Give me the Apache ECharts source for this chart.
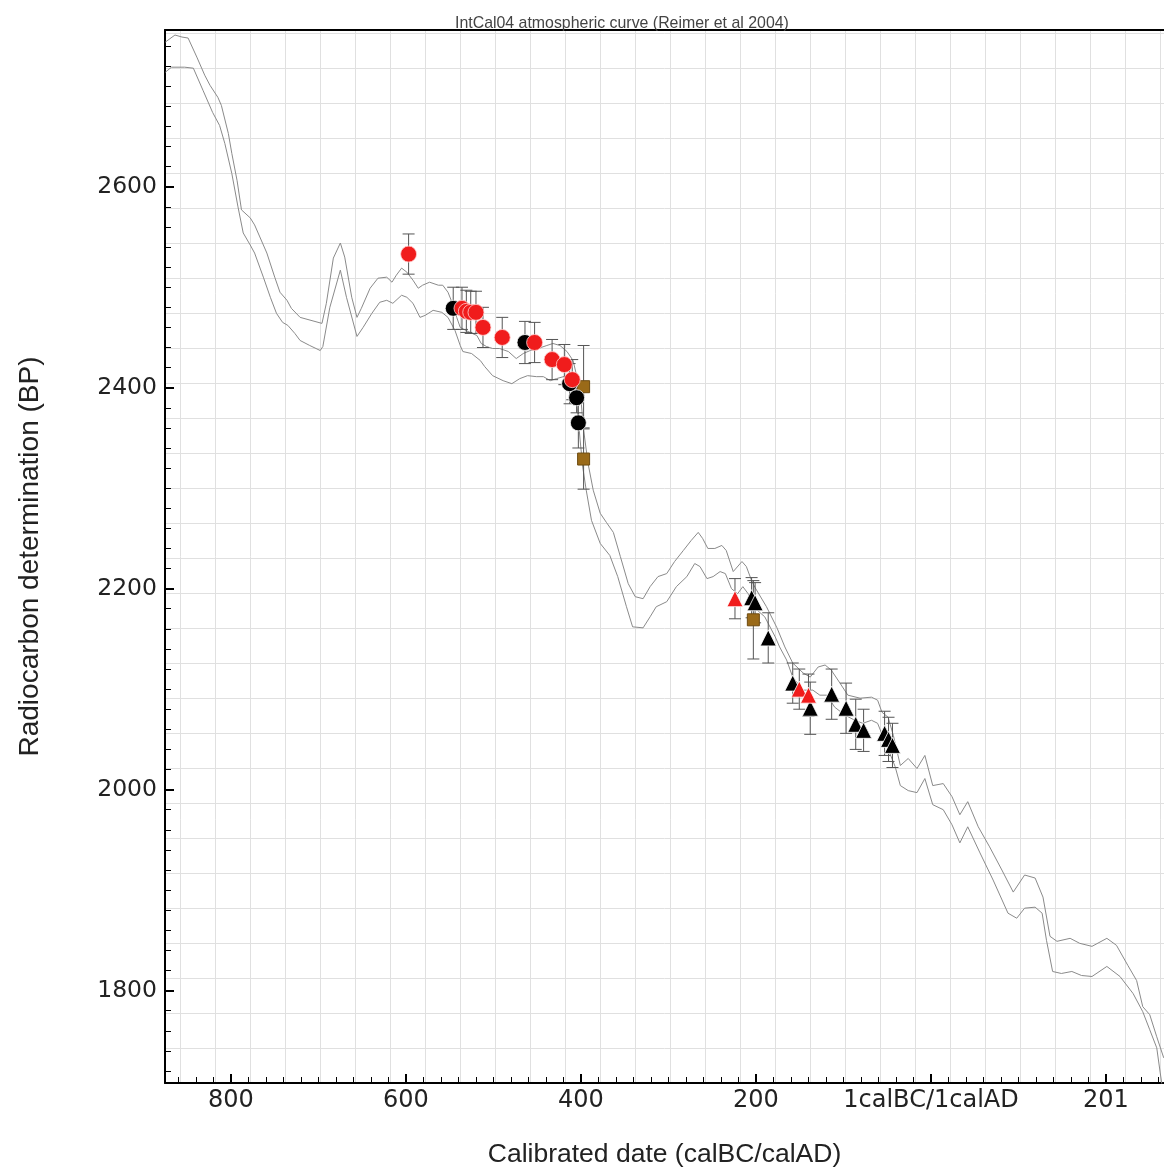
<!DOCTYPE html>
<html>
<head>
<meta charset="utf-8">
<script src="https://cdn.jsdelivr.net/npm/echarts@6/dist/echarts.min.js"></script>
<style>
html,body{margin:0;padding:0;background:#fff;}
#chart{width:1164px;height:1169px;}
</style>
</head>
<body>
<div id="chart"></div>
<script>
// Calendar years: BC negative, AD positive (0 = boundary 1calBC/1calAD)
const upperYears = [-875,-864,-856,-849,-839,-830,-824,-815,-811,-803,-799,-793,-788,-778,-773,-767,-759,-750,-744,-736,-731,-721,-696,-691,-683,-675,-670,-662,-656,-651,-641,-632,-622,-616,-611,-605,-599,-592,-586,-581,-573,-563,-558,-552,-546,-542,-538,-527,-519,-514,-508,-501,-493,-483,-474,-466,-458,-449,-439,-432,-424,-416,-409,-405,-400,-397,-392,-386,-378,-371,-363,-355,-346,-338,-329,-321,-312,-302,-293,-283,-274,-266,-261,-255,-247,-239,-234,-226,-216,-211,-205,-201,-188,-176,-167,-158,-146,-138,-129,-121,-114,-104,-95,-81,-68,-61,-56,-49,-43,-35,-26,-16,-7,2,14,24,33,42,54,67,81,94,107,119,128,136,144,159,170,184,201,212,225,235,242,250,258,266];
const upperBP = [2744,2751,2749,2748,2729,2711,2701,2689,2681,2653,2633,2606,2577,2569,2562,2550,2534,2510,2495,2487,2479,2470,2464,2484,2529,2544,2530,2490,2470,2479,2499,2509,2510,2505,2512,2519,2515,2507,2499,2502,2505,2502,2502,2495,2482,2470,2460,2455,2452,2444,2441,2439,2439,2436,2429,2434,2437,2439,2442,2444,2442,2436,2427,2412,2388,2358,2325,2298,2275,2266,2256,2232,2205,2192,2190,2202,2212,2215,2227,2238,2248,2256,2250,2240,2240,2243,2238,2217,2227,2222,2208,2201,2182,2161,2142,2126,2116,2112,2122,2124,2119,2106,2094,2091,2092,2089,2077,2072,2054,2024,2031,2021,2034,2004,2006,1993,1975,1988,1963,1943,1920,1898,1915,1912,1893,1854,1849,1852,1847,1844,1852,1845,1825,1810,1784,1776,1754,1733];
const lowerYears = [-875,-868,-853,-843,-832,-821,-813,-807,-799,-792,-786,-778,-773,-763,-755,-748,-741,-735,-727,-721,-710,-698,-695,-687,-675,-668,-656,-649,-639,-630,-622,-615,-605,-599,-592,-584,-578,-569,-559,-552,-544,-538,-535,-525,-515,-510,-501,-489,-479,-470,-461,-451,-443,-435,-428,-416,-409,-405,-401,-398,-394,-388,-378,-367,-358,-348,-341,-329,-321,-314,-302,-291,-279,-270,-264,-256,-249,-241,-235,-228,-221,-215,-209,-203,-190,-178,-173,-165,-158,-146,-135,-127,-119,-110,-98,-87,-78,-68,-61,-55,-47,-41,-35,-26,-16,-7,2,14,24,33,42,56,71,88,98,107,119,127,132,139,149,161,172,184,201,216,231,242,250,258,262,264];
const lowerBP = [2714,2719,2719,2718,2696,2674,2661,2643,2613,2580,2554,2542,2534,2510,2490,2474,2465,2462,2454,2447,2442,2437,2441,2480,2517,2490,2451,2460,2474,2485,2487,2484,2492,2490,2484,2470,2472,2477,2475,2470,2457,2442,2436,2434,2427,2421,2412,2407,2404,2409,2412,2411,2411,2407,2409,2412,2411,2388,2348,2321,2298,2268,2245,2233,2212,2182,2162,2161,2172,2182,2187,2202,2212,2225,2222,2210,2212,2217,2215,2200,2195,2202,2195,2182,2172,2152,2142,2129,2112,2099,2099,2094,2094,2082,2074,2069,2066,2069,2066,2053,2036,2023,2004,1999,1997,2011,1985,1980,1965,1947,1963,1937,1910,1877,1872,1882,1883,1877,1850,1819,1817,1819,1815,1814,1824,1814,1797,1779,1761,1743,1718,1706];

// Samples: calendar position, radiocarbon age, 1-sigma error
const redCircleYears = [-597,-536,-531,-526,-520,-512,-490,-453,-433,-419,-410];
const redCircleBP    = [2533,2479,2476,2475,2475,2460,2450,2445,2428,2423,2408];
const redCircleErr   = [20,21,21,21,21,20,20,20,20,20,20];

const blackCircleYears = [-546,-464,-413,-405,-403];
const blackCircleBP    = [2479,2445,2404,2390,2365];
const blackCircleErr   = [21,21,20,15,25];

const squareYears = [-397,-397,-203];
const squareBP    = [2401,2329,2169];
const squareErr   = [41,30,39];

const blackTriYears = [-205,-201,-186,-158,-138,-113.5,-97,-86,-77,-53,-48.5,-44];
const blackTriBP    = [2191,2186,2151,2106,2081,2095,2081,2065,2059,2056,2050,2044];
const blackTriErr   = [20,20,25,20,26,25,25,25,21,22,22,22];

const redTriYears = [-224,-150.5,-140];
const redTriBP    = [2190,2100,2094];
const redTriErr   = [20,20,21];

const xTickValues = [-800,-600,-400,-200,0,200];
const xTickLabels = ['800','600','400','200','1calBC/1calAD','201'];
const yTickValues = [1800,2000,2200,2400,2600];

const xMin = -875.4, xMax = 266.3, yMin = 1708, yMax = 2756;
const xMinor = []; for (let v = -860; v <= 260; v += 20) xMinor.push(v);
const yMinor = []; for (let v = 1720; v <= 2740; v += 20) yMinor.push(v);

function pairs(xs, ys) { return xs.map((x, i) => [x, ys[i]]); }
function triples(xs, ys, es) { return xs.map((x, i) => [x, ys[i], es[i]]); }

const errData = [].concat(
  triples(redCircleYears, redCircleBP, redCircleErr),
  triples(blackCircleYears, blackCircleBP, blackCircleErr),
  triples(squareYears, squareBP, squareErr),
  triples(blackTriYears, blackTriBP, blackTriErr),
  triples(redTriYears, redTriBP, redTriErr)
);

const FONT = 'DejaVu Sans';
const RED = '#f01c1c';

const chart = echarts.init(document.getElementById('chart'), null, {renderer: 'canvas'});
const option = {
  animation: false,
  backgroundColor: '#ffffff',
  title: {
    text: 'IntCal04 atmospheric curve (Reimer et al 2004)',
    left: 450, top: 11,
    textStyle: {fontFamily: 'Liberation Sans', fontSize: 15.9, fontWeight: 'normal', color: '#444'}
  },
  grid: [
    {left: 165, right: 0, top: 30, height: 1053, outerBoundsMode: 'none', containLabel: false},
    {left: 180, width: 980, top: 30, height: 1053, outerBoundsMode: 'none', containLabel: false},
    {left: 165, right: 0, top: 33, height: 1015, outerBoundsMode: 'none', containLabel: false}
  ],
  xAxis: [
    {
      type: 'value', gridIndex: 0, position: 'bottom', min: xMin, max: xMax,
      axisLine: {show: true, onZero: false, lineStyle: {color: '#000', width: 2}},
      axisTick: {show: true, inside: true, length: 9, customValues: xTickValues, lineStyle: {color: '#000', width: 2}},
      axisLabel: {show: true, customValues: xTickValues, margin: 6,
        formatter: v => { const i = xTickValues.indexOf(v); return i >= 0 ? xTickLabels[i] : ''; },
        fontFamily: FONT, fontSize: 24, color: '#222'},
      splitLine: {show: false},
      name: 'Calibrated date (calBC/calAD)', nameLocation: 'middle', nameGap: 58,
      nameTextStyle: {fontFamily: 'Liberation Sans', fontSize: 26.5, color: '#222'}
    },
    {
      type: 'value', gridIndex: 0, position: 'bottom', min: xMin, max: xMax,
      axisLine: {show: false, onZero: false},
      axisTick: {show: true, inside: true, length: 6, customValues: xMinor, lineStyle: {color: '#000', width: 1}},
      axisLabel: {show: false}, splitLine: {show: false}
    },
    {
      type: 'value', gridIndex: 0, position: 'top', min: xMin, max: xMax,
      axisLine: {show: true, onZero: false, lineStyle: {color: '#000', width: 2}},
      axisTick: {show: false}, axisLabel: {show: false}, splitLine: {show: false}
    },
    {
      type: 'value', gridIndex: 1, min: 0, max: 28, interval: 1,
      axisLine: {show: false, onZero: false}, axisTick: {show: false}, axisLabel: {show: false},
      splitLine: {show: true, lineStyle: {color: '#e0e0e0', width: 1}}
    },
    {
      type: 'value', gridIndex: 2, min: 0, max: 1,
      axisLine: {show: false, onZero: false}, axisTick: {show: false}, axisLabel: {show: false}, splitLine: {show: false}
    }
  ],
  yAxis: [
    {
      type: 'value', gridIndex: 0, position: 'left', min: yMin, max: yMax,
      axisLine: {show: true, onZero: false, lineStyle: {color: '#000', width: 2}},
      axisTick: {show: true, inside: true, length: 9, customValues: yTickValues, lineStyle: {color: '#000', width: 2}},
      axisLabel: {show: true, customValues: yTickValues, margin: 8, formatter: v => String(v),
        fontFamily: FONT, fontSize: 23.5, color: '#222'},
      splitLine: {show: false},
      name: 'Radiocarbon determination (BP)', nameLocation: 'middle', nameRotate: 90, nameGap: 121,
      nameTextStyle: {fontFamily: 'Liberation Sans', fontSize: 28, color: '#222'}
    },
    {
      type: 'value', gridIndex: 0, position: 'left', min: yMin, max: yMax,
      axisLine: {show: false, onZero: false},
      axisTick: {show: true, inside: true, length: 6, customValues: yMinor, lineStyle: {color: '#000', width: 1}},
      axisLabel: {show: false}, splitLine: {show: false}
    },
    {
      type: 'value', gridIndex: 1, min: 0, max: 1,
      axisLine: {show: false, onZero: false}, axisTick: {show: false}, axisLabel: {show: false}, splitLine: {show: false}
    },
    {
      type: 'value', gridIndex: 2, min: 0, max: 29, interval: 1,
      axisLine: {show: false, onZero: false}, axisTick: {show: false}, axisLabel: {show: false},
      splitLine: {show: true, lineStyle: {color: '#e0e0e0', width: 1}}
    }
  ],
  series: [
    {
      type: 'line', xAxisIndex: 0, yAxisIndex: 0, data: pairs(upperYears, upperBP),
      showSymbol: false, symbol: 'none', lineStyle: {color: '#8a8a8a', width: 1}, z: 2, silent: true
    },
    {
      type: 'line', xAxisIndex: 0, yAxisIndex: 0, data: pairs(lowerYears, lowerBP),
      showSymbol: false, symbol: 'none', lineStyle: {color: '#8a8a8a', width: 1}, z: 2, silent: true
    },
    {
      type: 'custom', xAxisIndex: 0, yAxisIndex: 0, data: errData, z: 3, silent: true,
      renderItem: function (params, api) {
        const x = api.value(0), y = api.value(1), e = api.value(2);
        const t = api.coord([x, y + e]);
        const b = api.coord([x, y - e]);
        const hw = 6;
        const st = {stroke: '#555', lineWidth: 1};
        return {type: 'group', children: [
          {type: 'line', shape: {x1: t[0], y1: t[1], x2: b[0], y2: b[1]}, style: st},
          {type: 'line', shape: {x1: t[0] - hw, y1: t[1], x2: t[0] + hw, y2: t[1]}, style: st},
          {type: 'line', shape: {x1: b[0] - hw, y1: b[1], x2: b[0] + hw, y2: b[1]}, style: st}
        ]};
      }
    },
    {
      type: 'scatter', xAxisIndex: 0, yAxisIndex: 0, data: pairs(squareYears, squareBP),
      symbol: 'rect', symbolSize: 12, z: 4,
      itemStyle: {color: '#9a6a18', borderColor: '#6e4b10', borderWidth: 1, opacity: 1}
    },
    {
      type: 'scatter', xAxisIndex: 0, yAxisIndex: 0, data: pairs(blackCircleYears, blackCircleBP),
      symbol: 'circle', symbolSize: 16, z: 5,
      itemStyle: {color: '#000', borderColor: '#fff', borderWidth: 0.8, opacity: 1}
    },
    {
      type: 'scatter', xAxisIndex: 0, yAxisIndex: 0, data: pairs(redCircleYears, redCircleBP),
      symbol: 'circle', symbolSize: 16, z: 6,
      itemStyle: {color: RED, borderColor: '#ffd0d0', borderWidth: 0.8, opacity: 1}
    },
    {
      type: 'scatter', xAxisIndex: 0, yAxisIndex: 0, data: pairs(blackTriYears, blackTriBP),
      symbol: 'triangle', symbolSize: 16, z: 5,
      itemStyle: {color: '#000', borderColor: '#fff', borderWidth: 0.8, opacity: 1}
    },
    {
      type: 'scatter', xAxisIndex: 0, yAxisIndex: 0, data: pairs(redTriYears, redTriBP),
      symbol: 'triangle', symbolSize: 16, z: 6,
      itemStyle: {color: RED, borderColor: '#fff', borderWidth: 0.8, opacity: 1}
    }
  ]
};
chart.setOption(option);
</script>
</body>
</html>
